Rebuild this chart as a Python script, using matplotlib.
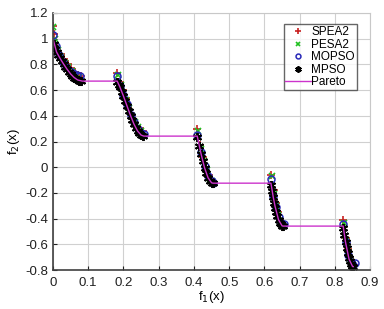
import matplotlib
matplotlib.use('Agg')
import matplotlib.pyplot as plt

# SPEA2 (red +)
spea2_f1 = [0.0, 0.004, 0.012, 0.022, 0.032, 0.042, 0.052, 0.062, 0.072, 0.08,
            0.183, 0.19, 0.198, 0.206, 0.214, 0.222, 0.23, 0.238, 0.246, 0.256,
            0.41, 0.418, 0.426, 0.434, 0.442, 0.452,
            0.62, 0.626, 0.632, 0.638, 0.644, 0.65,
            0.824, 0.83, 0.836, 0.842, 0.848, 0.853]
spea2_f2 = [1.10, 1.04, 0.93, 0.88, 0.84, 0.80, 0.77, 0.74, 0.72, 0.71,
            0.73, 0.66, 0.60, 0.54, 0.47, 0.42, 0.37, 0.32, 0.30, 0.28,
            0.30, 0.17, 0.08, 0.0, -0.06, -0.10,
            -0.06, -0.18, -0.28, -0.35, -0.40, -0.43,
            -0.41, -0.55, -0.64, -0.70, -0.74, -0.76]

# PESA2 (green x)
pesa2_f1 = [0.0, 0.006, 0.014, 0.024, 0.034, 0.044, 0.054, 0.064, 0.074,
            0.184, 0.192, 0.2, 0.208, 0.216, 0.224, 0.232, 0.24, 0.25,
            0.412, 0.42, 0.428, 0.436, 0.444, 0.45,
            0.621, 0.627, 0.633, 0.639, 0.645, 0.651,
            0.825, 0.831, 0.837, 0.843, 0.849]
pesa2_f2 = [1.09, 1.0, 0.91, 0.86, 0.81, 0.78, 0.75, 0.72, 0.70,
            0.72, 0.64, 0.58, 0.52, 0.46, 0.40, 0.35, 0.31, 0.28,
            0.28, 0.14, 0.05, -0.02, -0.08, -0.11,
            -0.07, -0.21, -0.30, -0.37, -0.42, -0.44,
            -0.43, -0.57, -0.66, -0.72, -0.75]

# MOPSO (blue o)
mopso_f1 = [0.001, 0.008, 0.018, 0.028, 0.038, 0.048, 0.058, 0.068, 0.078,
            0.182, 0.19, 0.2, 0.21, 0.22, 0.23, 0.24, 0.25, 0.258,
            0.41, 0.42, 0.43, 0.44, 0.45, 0.455,
            0.619, 0.625, 0.632, 0.64, 0.648, 0.655,
            0.824, 0.83, 0.838, 0.846, 0.852, 0.858]
mopso_f2 = [1.03, 0.94, 0.87, 0.82, 0.78, 0.75, 0.73, 0.72, 0.71,
            0.71, 0.63, 0.56, 0.49, 0.41, 0.35, 0.30, 0.27, 0.26,
            0.25, 0.12, 0.01, -0.07, -0.11, -0.12,
            -0.09, -0.22, -0.31, -0.39, -0.43, -0.44,
            -0.44, -0.58, -0.68, -0.74, -0.76, -0.745]

# MPSO (black *)
mpso_f1 = [0.002, 0.006, 0.01, 0.015, 0.02, 0.025, 0.03, 0.035, 0.04, 0.045,
           0.05, 0.055, 0.06, 0.065, 0.07, 0.075, 0.08,
           0.183, 0.187, 0.19, 0.195, 0.2, 0.205, 0.21, 0.215, 0.22, 0.225,
           0.23, 0.235, 0.24, 0.245, 0.25, 0.255,
           0.41, 0.415, 0.42, 0.425, 0.43, 0.435, 0.44, 0.445, 0.45, 0.453,
           0.619, 0.622, 0.625, 0.628, 0.631, 0.634, 0.637, 0.64, 0.643,
           0.646, 0.649, 0.652,
           0.824, 0.827, 0.83, 0.833, 0.836, 0.839, 0.842, 0.845, 0.848, 0.851]
mpso_f2 = [0.955, 0.92, 0.897, 0.87, 0.847, 0.825, 0.802, 0.782, 0.762, 0.744,
           0.726, 0.711, 0.698, 0.687, 0.679, 0.673, 0.670,
           0.665, 0.642, 0.623, 0.589, 0.553, 0.515, 0.477, 0.439, 0.402, 0.367,
           0.334, 0.306, 0.282, 0.263, 0.250, 0.243,
           0.233, 0.167, 0.105, 0.048, -0.004, -0.047, -0.082, -0.107, -0.121, -0.124,
           -0.135, -0.185, -0.233, -0.277, -0.316, -0.352, -0.383, -0.409, -0.430,
           -0.445, -0.454, -0.458,
           -0.472, -0.530, -0.583, -0.630, -0.671, -0.706, -0.733, -0.754, -0.767, -0.773]

# true Pareto front
pareto_f1 = [0.0, 0.01, 0.02, 0.03, 0.04, 0.05, 0.06, 0.07, 0.083,
             0.1822, 0.19, 0.2, 0.21, 0.22, 0.23, 0.24, 0.25, 0.2578,
             0.4093, 0.42, 0.43, 0.44, 0.45, 0.4539,
             0.6184, 0.625, 0.63, 0.64, 0.65, 0.6525,
             0.8233, 0.83, 0.84, 0.85, 0.8518]
pareto_f2 = [1.0, 0.897, 0.847, 0.803, 0.762, 0.726, 0.698, 0.679, 0.670,
             0.670, 0.623, 0.553, 0.477, 0.402, 0.334, 0.282, 0.250, 0.242,
             0.242, 0.105, -0.004, -0.082, -0.121, -0.124,
             -0.124, -0.233, -0.303, -0.409, -0.456, -0.458,
             -0.458, -0.583, -0.715, -0.772, -0.773]

xticks = [0, 0.1, 0.2, 0.3, 0.4, 0.5, 0.6, 0.7, 0.8, 0.9]
yticks = [-0.8, -0.6, -0.4, -0.2, 0, 0.2, 0.4, 0.6, 0.8, 1, 1.2]

plt.rcParams['font.family'] = ['Liberation Sans', 'DejaVu Sans']
fig = plt.figure(figsize=(3.84, 3.09), dpi=100)
ax = fig.add_axes([0.138, 0.126, 0.826, 0.832])

ax.plot(spea2_f1, spea2_f2, '+', color='#c82020', ms=6, mew=1.2, label='SPEA2')
ax.plot(pesa2_f1, pesa2_f2, 'x', color='#20c020', ms=5, mew=1.2, label='PESA2')
ax.plot(mopso_f1, mopso_f2, 'o', mfc='none', mec='#2828b8', ms=5, mew=1.1, label='MOPSO')
ax.plot(mpso_f1, mpso_f2, marker=(6, 2, 0), ls='none', color='black', ms=6.5, mew=1.4, label='MPSO')
ax.plot(pareto_f1, pareto_f2, '-', color='#cc33cc', lw=1.0, label='Pareto')

ax.set_xlim(0, 0.9)
ax.set_ylim(-0.8, 1.2)
ax.set_xticks(xticks)
ax.set_xticklabels(['0', '0.1', '0.2', '0.3', '0.4', '0.5', '0.6', '0.7', '0.8', '0.9'])
ax.set_yticks(yticks)
ax.set_yticklabels(['-0.8', '-0.6', '-0.4', '-0.2', '0', '0.2', '0.4', '0.6', '0.8', '1', '1.2'])
ax.grid(True, color='#d0d0d0', lw=0.8)
ax.set_axisbelow(True)
ax.tick_params(direction='in', length=3, labelsize=9.5, colors='#202020')
ax.tick_params(axis='x', pad=5)
ax.spines['left'].set_color('#404040')
ax.spines['bottom'].set_color('#404040')
ax.spines['left'].set_linewidth(1.2)
ax.spines['bottom'].set_linewidth(1.2)
ax.spines['top'].set_color('#c8c8c8')
ax.spines['right'].set_color('#c8c8c8')

ax.set_xlabel('f$_1$(x)', fontsize=9.5, labelpad=0)
ax.set_ylabel('f$_2$(x)', fontsize=9.5, labelpad=2)

leg = ax.legend(loc='upper right', bbox_to_anchor=(0.965, 0.965), fontsize=8.5,
                fancybox=False, edgecolor='#404040', handlelength=2.2,
                handletextpad=0.0, borderpad=0.15, labelspacing=0.05,
                borderaxespad=0.2, markerscale=0.7)
leg.get_frame().set_linewidth(1.0)

fig.savefig('out.png', dpi=100)
